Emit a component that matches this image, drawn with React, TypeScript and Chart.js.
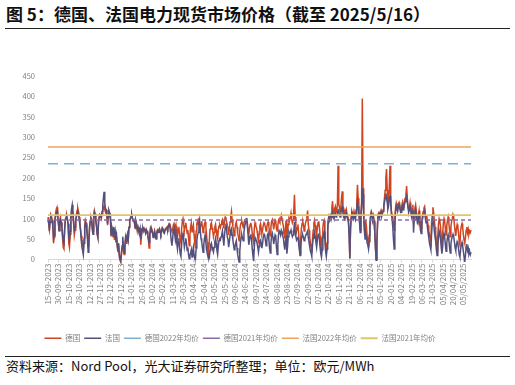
import React, { useEffect, useRef } from "react";
import { Chart, registerables } from "chart.js";

Chart.register(...registerables);

// x-axis tick labels (one every 15 categories)
const tickLabels = [
  "15-09-2023", "30-09-2023", "15-10-2023", "28-10-2023", "12-11-2023", "27-11-2023",
  "12-12-2023", "27-12-2023", "11-01-2024", "26-01-2024", "10-02-2024", "25-02-2024",
  "11-03-2024", "26-03-2024", "10-04-2024", "25-04-2024", "10-05-2024", "25-05-2024",
  "09-06-2024", "24-06-2024", "09-07-2024", "24-07-2024", "08-08-2024", "23-08-2024",
  "07-09-2024", "22-09-2024", "07-10-2024", "22-10-2024", "06-11-2024", "21-11-2024",
  "06-12-2024", "21-12-2024", "05-01-2025", "20-01-2025", "04-02-2025", "19-02-2025",
  "06-03-2025", "21-03-2025", "05/04/2025", "20/04/2025", "05/05/2025",
];
const LABEL_STEP = 15;

// 德国 daily spot price (EUR/MWh)
const deValues = [
  104, 90, 70, 96, 110, 106, 98, 84, 40, 55,
  100, 112, 124, 128, 110, 92, 70, 96, 104, 92,
  78, 52, 30, 26, 70, 98, 104, 108, 100, 86,
  40, 30, 62, 98, 110, 118, 104, 88, 60, 72,
  96, 110, 120, 126, 118, 104, 90, 76, 58, 40,
  34, 26, 52, 82, 96, 90, 80, 60, 32, 46,
  80, 96, 104, 98, 78, 70, 108, 120, 112, 98,
  84, 64, 56, 94, 104, 108, 106, 100, 112, 118,
  126, 132, 122, 116, 120, 110, 84, 104, 118, 112,
  108, 58, 78, 70, 56, 76, 48, 62, 42, 56,
  32, 18, 36, 6, -2, -6, 10, 26, 38, 24,
  12, 28, 48, 40, 54, 62, 50, 78, 94, 100,
  104, 108, 100, 94, 98, 88, 76, 92, 84, 70,
  80, 72, 66, 78, 36, 58, 74, 80, 70, 76,
  72, 66, 74, 70, 60, 48, 28, 58, 76, 70,
  74, 68, 56, 62, 70, 60, 52, 66, 72, 68,
  72, 76, 70, 64, 72, 78, 74, 68, 66, 74,
  76, 78, 80, 76, 84, 88, 86, 80, 74, 70,
  72, 84, 88, 78, 70, 82, 66, 56, 74, 80,
  62, 48, 40, 76, 92, 100, 86, 70, 82, 90,
  78, 64, 72, 52, 34, 60, 80, 90, 68, 76,
  84, 62, 40, 28, 70, 88, 94, 86, 102, 90,
  78, 86, 94, 80, 66, 74, 88, 92, 82, 60,
  42, 20, 10, 46, 74, 86, 90, 78, 70, 56,
  66, 80, 86, 72, 58, 50, 74, 82, 84, 78,
  86, 94, 98, 88, 76, 96, 104, 100, 92, 84,
  78, 60, 74, 92, 106, 118, 96, 82, 70, 58,
  72, 86, 92, 80, 64, 56, 46, 70, 84, 90,
  94, 86, 78, 90, 96, 98, 92, 100, 88, 74,
  60, 76, 86, 90, 80, 64, 50, 42, 76, 90,
  84, 78, 70, 56, 40, 62, 82, 88, 76, 64,
  72, 84, 90, 86, 80, 70, 78, 88, 92, 82,
  66, 58, 80, 94, 98, 88, 74, 86, 96, 92,
  76, 70, 84, 96, 100, 94, 98, 108, 100, 90,
  82, 64, 52, 78, 96, 50, 66, 86, 100, 96,
  104, 114, 98, 90, 96, 120, 159, 104, 82, 70,
  78, 86, 64, 40, 14, 50, 76, 88, 92, 84,
  70, 78, 90, 96, 104, 120, 86, 72, 56, 40,
  30, 16, 48, 72, 88, 96, 84, 70, 58, 76,
  90, 94, 80, 58, 36, 20, 52, 78, 92, 96,
  70, 30, 14, 40, 80, 100, 108, 104, 110, 112,
  126, 143, 120, 112, 124, 130, 116, 124, 132, 230,
  136, 128, 118, 130, 150, 167, 132, 116, 108, 120,
  114, 122, 110, 104, 96, 62, 4, 80, 108, 118,
  112, 106, 118, 110, 104, 122, 140, 183, 150, 120,
  96, 72, 112, 140, 395, 175, 118, 80, 60, 96,
  80, 56, 44, 30, 60, 90, 110, 118, 112, 100,
  108, 96, 70, 30, 0, 40, 90, 112, 118, 108,
  114, 120, 110, 116, 122, 134, 150, 170, 200, 222,
  170, 132, 140, 180, 230, 150, 120, 110, 100, 90,
  72, 100, 126, 138, 130, 124, 136, 140, 132, 126,
  120, 132, 140, 128, 134, 146, 150, 160, 180, 150,
  132, 120, 128, 140, 126, 112, 124, 134, 90, 110,
  126, 134, 118, 104, 96, 110, 120, 100, 88, 76,
  96, 110, 118, 126, 130, 112, 100, 108, 96, 84,
  70, 60, 52, 44, 90, 110, 128, 116, 96, 80,
  64, 40, 20, 56, 86, 100, 94, 80, 54, 30,
  62, 88, 100, 92, 76, 60, 82, 96, 104, 90,
  72, 56, 80, 94, 100, 110, 104, 86, 70, 58,
  76, 86, 80, 64, 44, 36, 70, 82, 88, 78,
  60, 48, 40, 54, 72, 80, 66, 74, 62, 70,
  66, 72,
];

// 法国 daily spot price (EUR/MWh)
const frValues = [
  98, 88, 74, 92, 104, 100, 94, 82, 52, 60,
  96, 106, 116, 118, 104, 88, 72, 92, 98, 90,
  80, 62, 44, 40, 74, 96, 100, 104, 98, 88,
  56, 48, 70, 108, 124, 134, 116, 96, 74, 80,
  92, 104, 112, 118, 114, 100, 86, 70, 48, 30,
  22, 12, 40, 76, 92, 86, 72, 50, 18, 34,
  76, 92, 100, 96, 72, 62, 104, 116, 110, 96,
  82, 62, 54, 92, 104, 110, 108, 104, 118, 130,
  150, 166, 140, 124, 122, 112, 88, 108, 120, 114,
  112, 62, 82, 74, 62, 80, 54, 68, 50, 60,
  36, 22, 40, 12, 2, -2, 16, 34, 56, 30,
  16, 32, 54, 44, 58, 64, 52, 80, 96, 102,
  106, 110, 102, 96, 100, 90, 78, 94, 86, 74,
  78, 70, 68, 76, 50, 62, 72, 78, 72, 74,
  70, 64, 72, 68, 62, 52, 42, 60, 74, 68,
  70, 64, 54, 60, 68, 58, 50, 62, 70, 66,
  70, 74, 68, 62, 70, 76, 72, 66, 64, 72,
  74, 76, 78, 74, 82, 86, 80, 66, 46, 34,
  50, 70, 76, 62, 48, 60, 40, 26, 44, 52,
  30, 14, 8, 36, 58, 64, 48, 30, 40, 52,
  40, 22, 30, 12, 2, 10, 16, 24, 6, 20,
  30, 12, 4, 2, 28, 46, 60, 66, 84, 96,
  70, 52, 44, 30, 18, 36, 52, 60, 42, 24,
  16, 8, 6, 4, 22, 36, 40, 30, 24, 18,
  30, 44, 52, 40, 22, 12, 32, 46, 50, 48,
  56, 62, 70, 50, 34, 60, 78, 88, 72, 56,
  48, 30, 44, 60, 72, 76, 62, 48, 36, 24,
  30, 40, 46, 28, 12, 2, -6, 20, 42, 54,
  60, 52, 46, 66, 80, 88, 94, 102, 80, 60,
  36, 46, 56, 62, 48, 26, 10, -4, 30, 54,
  50, 46, 40, 30, 18, 32, 46, 48, 40, 28,
  40, 56, 62, 58, 48, 34, 44, 60, 64, 50,
  28, 16, 40, 58, 64, 54, 38, 48, 60, 56,
  30, 12, 36, 62, 70, 66, 60, 72, 68, 58,
  52, 36, 24, 44, 60, 14, 30, 56, 68, 64,
  66, 72, 62, 56, 60, 70, 92, 70, 56, 48,
  52, 56, 40, 24, 10, 30, 50, 58, 60, 54,
  46, 50, 58, 62, 66, 70, 54, 44, 32, 20,
  16, 8, 34, 52, 62, 68, 56, 42, 30, 48,
  60, 64, 50, 30, 14, 6, 24, 50, 62, 68,
  48, 20, 8, 26, 70, 96, 104, 100, 106, 108,
  106, 114, 104, 100, 110, 114, 104, 108, 112, 122,
  120, 108, 104, 112, 124, 130, 114, 104, 100, 110,
  108, 114, 104, 98, 90, 58, 2, 74, 102, 112,
  106, 100, 110, 104, 98, 112, 126, 143, 130, 112,
  90, 66, 104, 130, 175, 160, 104, 70, 50, 64,
  56, 40, 36, 26, 44, 80, 104, 114, 108, 96,
  102, 92, 66, 28, -2, 36, 86, 108, 114, 104,
  110, 116, 106, 112, 118, 128, 140, 150, 162, 150,
  140, 124, 132, 150, 155, 140, 112, 100, 80, 50,
  26, 80, 118, 130, 124, 118, 128, 134, 126, 120,
  116, 126, 132, 122, 128, 136, 142, 150, 155, 140,
  128, 116, 122, 130, 120, 106, 116, 122, 66, 96,
  118, 124, 110, 96, 86, 100, 108, 88, 72, 64,
  86, 100, 108, 116, 120, 102, 90, 96, 80, 66,
  54, 40, 32, 24, 60, 88, 100, 92, 70, 56,
  44, 24, 10, 30, 56, 70, 62, 50, 30, 14,
  30, 56, 64, 54, 36, 20, 40, 54, 60, 48,
  30, 16, 38, 50, 56, 62, 56, 44, 30, 22,
  36, 44, 40, 26, 12, 6, 24, 36, 42, 32,
  20, 6, -6, 10, 30, 38, 22, 28, 14, 20,
  12, 18,
];

// yearly average reference levels
const DE_2022_AVG = 235;
const DE_2021_AVG = 97;
const FR_2022_AVG = 276;
const FR_2021_AVG = 109;

const seriesNames = ["德国", "法国", "德国2022年均价", "德国2021年均价", "法国2022年均价", "法国2021年均价"];

const FONT = '"Noto Sans CJK SC", "Noto Sans", sans-serif';
const GRAY = "#808080";

export default function App() {
  const ref = useRef<HTMLCanvasElement | null>(null);

  useEffect(() => {
    const canvas = ref.current;
    if (!canvas) return;
    const lastIdx = deValues.length - 1;
    const xy = (arr: number[]) => arr.map((v, i) => ({ x: i, y: v }));
    const hline = (v: number) => [{ x: 0, y: v }, { x: lastIdx, y: v }];

    const chart = new Chart(canvas, {
      type: "line",
      data: {
        datasets: [
          { label: seriesNames[0], data: xy(deValues), borderColor: "#cf4520", backgroundColor: "#cf4520", borderWidth: 1.5, pointRadius: 0, order: 6, clip: false },
          { label: seriesNames[1], data: xy(frValues), borderColor: "#54507e", backgroundColor: "#54507e", borderWidth: 1.5, pointRadius: 0, order: 5, clip: false },
          { label: seriesNames[2], data: hline(DE_2022_AVG), borderColor: "#7eb0d3", backgroundColor: "#7eb0d3", borderWidth: 1.5, borderDash: [10, 6], pointRadius: 0, order: 4 },
          { label: seriesNames[3], data: hline(DE_2021_AVG), borderColor: "#8e6aa5", backgroundColor: "#8e6aa5", borderWidth: 1.5, borderDash: [4, 3], pointRadius: 0, order: 3 },
          { label: seriesNames[4], data: hline(FR_2022_AVG), borderColor: "#f0a35e", backgroundColor: "#f0a35e", borderWidth: 1.6, pointRadius: 0, order: 2 },
          { label: seriesNames[5], data: hline(FR_2021_AVG), borderColor: "#e3c46a", backgroundColor: "#e3c46a", borderWidth: 1.8, pointRadius: 0, order: 1 },
        ],
      },
      options: {
        animation: false,
        responsive: false,
        maintainAspectRatio: false,
        layout: { padding: { left: 9, right: 9, top: 20, bottom: 0 } },
        plugins: {
          tooltip: { enabled: false },
          legend: {
            position: "bottom",
            labels: {
              usePointStyle: true,
              pointStyle: "line",
              pointStyleWidth: 17,
              padding: 4,
              color: GRAY,
              font: { size: 7.5, family: FONT },
              sort: (a: any, b: any) => a.datasetIndex - b.datasetIndex,
            },
          },
        },
        scales: {
          x: {
            type: "linear",
            min: 0,
            max: lastIdx,
            afterBuildTicks: (s: any) => {
              s.ticks = tickLabels.map((_, k) => ({ value: k * LABEL_STEP }));
            },
            afterFit: (s: any) => {
              s.height = 71;
            },
            ticks: {
              autoSkip: false,
              maxRotation: 90,
              minRotation: 90,
              padding: 1,
              color: GRAY,
              font: { size: 8, family: FONT },
              callback: (v: any) => tickLabels[Math.round(Number(v) / LABEL_STEP)] ?? "",
            },
            grid: { drawOnChartArea: false, tickLength: 3, color: "#d9d9d9" },
            border: { color: "#d9d9d9" },
          },
          y: {
            min: 0,
            max: 450,
            afterFit: (s: any) => {
              s.width = 39;
            },
            ticks: { stepSize: 50, padding: 5, color: GRAY, font: { size: 7.5, family: FONT } },
            grid: { display: false },
            border: { display: false },
          },
        },
      } as any,
    });
    return () => chart.destroy();
  }, []);

  return (
    <div style={{ position: "fixed", left: 0, top: 0, width: 515, height: 385, background: "#fff", overflow: "hidden" }}>
      <div
        style={{
          position: "absolute", left: 6, top: 2, fontSize: 17, fontWeight: 700, lineHeight: "24px",
          fontFamily: FONT, color: "#111", whiteSpace: "nowrap",
        }}
      >
        图 5：德国、法国电力现货市场价格（截至 2025/5/16）
      </div>
      <div style={{ position: "absolute", left: 5, top: 27.5, width: 505, height: 1.3, background: "#222" }} />
      <canvas ref={ref} width={480} height={296} style={{ position: "absolute", left: 0, top: 56, width: 480, height: 296, display: "block" }} />
      <div style={{ position: "absolute", left: 5, top: 356, width: 505, height: 1.2, background: "#222" }} />
      <div
        style={{
          position: "absolute", left: 6, top: 358, fontSize: 13, lineHeight: "16px",
          fontFamily: FONT, color: "#111", whiteSpace: "nowrap",
        }}
      >
        资料来源：Nord Pool，光大证券研究所整理；单位：欧元/MWh
      </div>
    </div>
  );
}
